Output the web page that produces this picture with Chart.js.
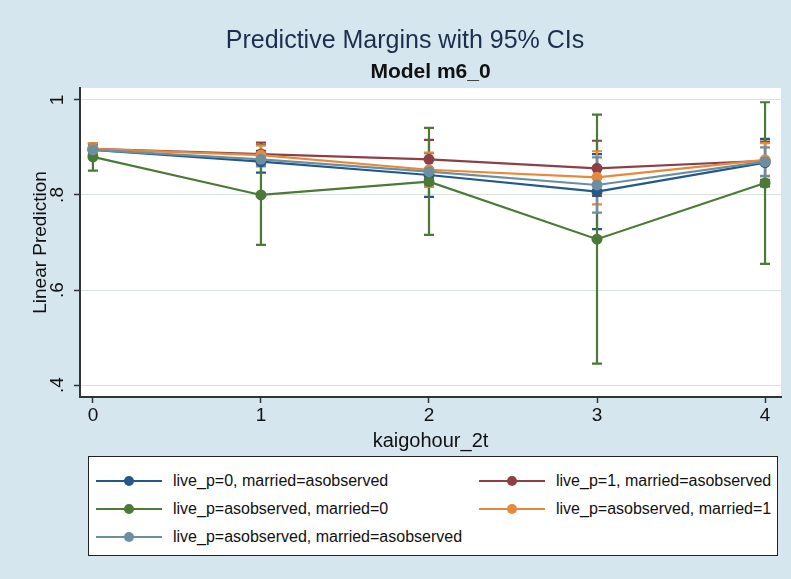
<!DOCTYPE html>
<html>
<head>
<meta charset="utf-8">
<script src="https://cdn.jsdelivr.net/npm/chart.js@4.4.1/dist/chart.umd.min.js"></script>
<style>
  body { margin:0; background:#d6e6ef; font-family:"Liberation Sans", Arial, sans-serif; }
  #wrap { position:relative; width:791px; height:579px; }
  #legend { position:absolute; left:88px; top:456px; width:688px; height:98px;
            background:#fff; border:1px solid #222; }
  .item { position:absolute; height:20px; display:flex; align-items:center;
          font-size:16px; color:#111; white-space:nowrap; }
  .sw { position:relative; width:66px; height:20px; margin-right:11px; }
  .sw .ln { position:absolute; left:0; right:0; top:9px; height:2px; }
  .sw .dot { position:absolute; left:28px; top:5px; width:10px; height:10px; border-radius:50%; }
</style>
</head>
<body>
<div id="wrap">
  <canvas id="chart" width="791" height="579"></canvas>
  <div id="legend"></div>
</div>
<script>
// x categories and axis ticks
const xVals = [0, 1, 2, 3, 4];
const xTickLabels = ["0", "1", "2", "3", "4"];
const yTicks = [0.4, 0.6, 0.8, 1];
const yTickLabels = [".4", ".6", ".8", "1"];

// series labels
const labels = [
  "live_p=0, married=asobserved",
  "live_p=1, married=asobserved",
  "live_p=asobserved, married=0",
  "live_p=asobserved, married=1",
  "live_p=asobserved, married=asobserved"
];
const colors = ["#24578a", "#8e3f45", "#4a7a35", "#e8893a", "#6b8fa1"];

// margins
const blue   = [0.895, 0.870, 0.842, 0.807, 0.868];
const red    = [0.897, 0.886, 0.875, 0.856, 0.872];
const green  = [0.880, 0.800, 0.828, 0.707, 0.825];
const orange = [0.897, 0.884, 0.853, 0.837, 0.874];
const gray   = [0.895, 0.875, 0.849, 0.821, 0.870];

// 95% CIs
const blueLo   = [0.883, 0.847, 0.796, 0.728, 0.818];
const blueHi   = [0.907, 0.893, 0.888, 0.886, 0.918];
const redLo    = [0.885, 0.862, 0.834, 0.798, 0.832];
const redHi    = [0.909, 0.910, 0.916, 0.914, 0.912];
const greenLo  = [0.851, 0.695, 0.716, 0.445, 0.655];
const greenHi  = [0.909, 0.905, 0.941, 0.969, 0.995];
const orangeLo = [0.885, 0.864, 0.817, 0.780, 0.839];
const orangeHi = [0.909, 0.904, 0.889, 0.892, 0.909];
const grayLo   = [0.885, 0.860, 0.821, 0.763, 0.840];
const grayHi   = [0.905, 0.890, 0.877, 0.879, 0.900];

const series = [blue, red, green, orange, gray];
const lows   = [blueLo, redLo, greenLo, orangeLo, grayLo];
const highs  = [blueHi, redHi, greenHi, orangeHi, grayHi];

const FONT = "'Liberation Sans', Arial, sans-serif";

const datasets = series.map((s, i) => ({
  label: labels[i],
  data: xVals.map((x, j) => ({x: x, y: s[j]})),
  lo: lows[i], hi: highs[i],
  borderColor: colors[i],
  backgroundColor: colors[i],
  borderWidth: 2.2,
  pointRadius: 5.5,
  pointBorderWidth: 0,
  tension: 0,
  order: series.length - i
}));

// white plot region + blue page
const bgPlugin = {
  id: "bg",
  beforeDraw(c) {
    const ctx = c.ctx, a = c.chartArea;
    ctx.save();
    ctx.fillStyle = "#d6e6ef";
    ctx.fillRect(0, 0, c.width, c.height);
    ctx.fillStyle = "#ffffff";
    ctx.fillRect(a.left, a.top, a.right - a.left, a.bottom - a.top);
    ctx.restore();
  }
};

// error bars with caps
const ciPlugin = {
  id: "ci",
  beforeDatasetsDraw(c) {
    const ctx = c.ctx, xs = c.scales.x, ys = c.scales.y;
    ctx.save();
    c.data.datasets.forEach((d, i) => {
      ctx.strokeStyle = d.borderColor;
      ctx.lineWidth = 2.2;
      d.data.forEach((p, j) => {
        const px = xs.getPixelForValue(p.x);
        const y1 = ys.getPixelForValue(d.lo[j]);
        const y2 = ys.getPixelForValue(d.hi[j]);
        ctx.beginPath();
        ctx.moveTo(px, y1); ctx.lineTo(px, y2);
        ctx.moveTo(px - 5, y1); ctx.lineTo(px + 5, y1);
        ctx.moveTo(px - 5, y2); ctx.lineTo(px + 5, y2);
        ctx.stroke();
      });
    });
    ctx.restore();
  }
};

// titles and rotated y tick labels (Stata style)
const textPlugin = {
  id: "texts",
  afterDraw(c) {
    const ctx = c.ctx, a = c.chartArea, ys = c.scales.y;
    ctx.save();
    ctx.textAlign = "center";
    ctx.textBaseline = "alphabetic";
    ctx.fillStyle = "#1c2e4e";
    ctx.font = "25px " + FONT;
    ctx.fillText("Predictive Margins with 95% CIs", 405, 48);
    ctx.fillStyle = "#111";
    ctx.font = "bold 21px " + FONT;
    ctx.fillText("Model m6_0", (a.left + a.right) / 2, 78);

    ctx.font = "19px " + FONT;
    ctx.textBaseline = "middle";
    yTicks.forEach((v, i) => {
      ctx.save();
      ctx.translate(58, ys.getPixelForValue(v));
      ctx.rotate(-Math.PI / 2);
      ctx.fillText(yTickLabels[i], 0, 0);
      ctx.restore();
    });
    ctx.restore();
  }
};

new Chart(document.getElementById("chart"), {
  type: "line",
  data: { datasets: datasets },
  options: {
    responsive: false,
    animation: false,
    layout: { padding: { top: 88, right: 10, bottom: 122, left: 0 } },
    plugins: { legend: { display: false }, tooltip: { enabled: false } },
    scales: {
      x: {
        type: "linear", min: -0.077, max: 4.095,
        afterBuildTicks: s => { s.ticks = xVals.map(v => ({value: v})); },
        afterFit: s => { s.height = 60; },
        ticks: { callback: (v, i) => xTickLabels[i], color: "#111",
                 font: { size: 19, family: FONT }, padding: 1 },
        grid: { drawOnChartArea: false, tickColor: "#333", tickLength: 6, tickWidth: 1.5 },
        border: { color: "#333", width: 2 },
        title: { display: true, text: "kaigohour_2t", color: "#111",
                 font: { size: 20, family: FONT }, padding: { top: 0, bottom: 4 } }
      },
      y: {
        type: "linear", min: 0.375, max: 1.025,
        afterBuildTicks: s => { s.ticks = yTicks.map(v => ({value: v})); },
        afterFit: s => { s.width = 80; },
        ticks: { display: false },
        grid: { color: "#d7e2dc", tickColor: "#333", tickLength: 6, tickWidth: 1.5 },
        border: { color: "#333", width: 2 },
        title: { display: true, text: "Linear Prediction", color: "#111",
                 font: { size: 19, family: FONT }, padding: { top: 29, bottom: 0 } }
      }
    }
  },
  plugins: [bgPlugin, ciPlugin, textPlugin]
});

// legend in two columns, built from the dataset labels
const lg = document.getElementById("legend");
const pos = [[7, 14], [390, 14], [7, 42], [390, 42], [7, 70]];
labels.forEach((t, i) => {
  const it = document.createElement("div");
  it.className = "item";
  it.style.left = pos[i][0] + "px";
  it.style.top = pos[i][1] + "px";
  it.innerHTML = '<div class="sw"><div class="ln" style="background:' + colors[i] +
    '"></div><div class="dot" style="background:' + colors[i] + '"></div></div>';
  const sp = document.createElement("span");
  sp.textContent = t;
  it.appendChild(sp);
  lg.appendChild(it);
});
</script>
</body>
</html>
